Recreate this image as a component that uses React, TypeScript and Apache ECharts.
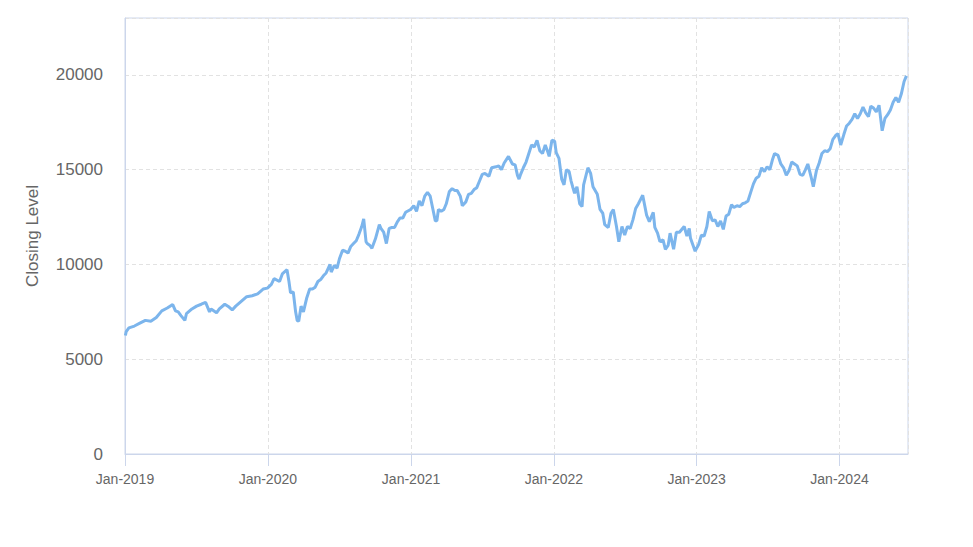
import React, { useEffect, useRef } from "react";
import * as echarts from "echarts";

const dates: string[] = [
  "2019-01-02","2019-01-04","2019-01-11","2019-01-25","2019-02-08","2019-02-22","2019-03-08","2019-03-22","2019-04-05","2019-04-19",
  "2019-04-30","2019-05-03","2019-05-10","2019-05-17","2019-05-24","2019-06-03","2019-06-07","2019-06-21","2019-07-03","2019-07-15",
  "2019-07-26","2019-08-05","2019-08-09","2019-08-23","2019-08-30","2019-09-13","2019-09-24","2019-10-02","2019-10-11","2019-10-25",
  "2019-11-08","2019-11-22","2019-12-06","2019-12-20","2019-12-31",
  "2020-01-10","2020-01-17","2020-01-31","2020-02-07","2020-02-19","2020-02-24","2020-02-28","2020-03-06","2020-03-12","2020-03-16",
  "2020-03-20","2020-03-26","2020-04-01","2020-04-09","2020-04-17","2020-04-24","2020-05-01","2020-05-08","2020-05-15","2020-05-22",
  "2020-05-29","2020-06-08","2020-06-11","2020-06-19","2020-06-26","2020-07-02","2020-07-10","2020-07-17","2020-07-24","2020-07-31",
  "2020-08-07","2020-08-14","2020-08-21","2020-08-28","2020-09-02","2020-09-08","2020-09-11","2020-09-18","2020-09-23","2020-10-02",
  "2020-10-12","2020-10-16","2020-10-23","2020-10-30","2020-11-06","2020-11-13","2020-11-20","2020-11-27","2020-12-04","2020-12-11",
  "2020-12-18","2020-12-31",
  "2021-01-08","2021-01-15","2021-01-22","2021-01-29","2021-02-05","2021-02-12","2021-02-19","2021-02-26","2021-03-04","2021-03-08",
  "2021-03-12","2021-03-19","2021-03-26","2021-04-01","2021-04-09","2021-04-16","2021-04-23","2021-04-29","2021-05-07","2021-05-12",
  "2021-05-21","2021-05-28","2021-06-04","2021-06-11","2021-06-18","2021-06-25","2021-07-02","2021-07-09","2021-07-19","2021-07-26",
  "2021-08-06","2021-08-13","2021-08-20","2021-08-27","2021-09-07","2021-09-17","2021-09-24","2021-09-30","2021-10-04","2021-10-08",
  "2021-10-15","2021-10-22","2021-10-29","2021-11-05","2021-11-12","2021-11-19","2021-11-26","2021-12-03","2021-12-10","2021-12-17",
  "2021-12-20","2021-12-27",
  "2022-01-03","2022-01-07","2022-01-14","2022-01-21","2022-01-27","2022-02-02","2022-02-09","2022-02-14","2022-02-18","2022-02-23",
  "2022-03-01","2022-03-08","2022-03-14","2022-03-18","2022-03-29","2022-04-05","2022-04-11","2022-04-22","2022-04-29","2022-05-06",
  "2022-05-11","2022-05-20","2022-05-27","2022-06-02","2022-06-10","2022-06-16","2022-06-24","2022-07-01","2022-07-08","2022-07-15",
  "2022-07-22","2022-07-29","2022-08-05","2022-08-16","2022-08-26","2022-09-02","2022-09-12","2022-09-16","2022-09-23","2022-09-29",
  "2022-10-07","2022-10-13","2022-10-20","2022-10-25","2022-11-03","2022-11-10","2022-11-18","2022-11-30","2022-12-07","2022-12-13",
  "2022-12-16","2022-12-28",
  "2023-01-06","2023-01-13","2023-01-20","2023-01-27","2023-02-02","2023-02-10","2023-02-17","2023-02-24","2023-03-03","2023-03-10",
  "2023-03-17","2023-03-24","2023-03-31","2023-04-06","2023-04-14","2023-04-21","2023-04-28","2023-05-05","2023-05-12","2023-05-19",
  "2023-05-26","2023-06-02","2023-06-09","2023-06-16","2023-06-23","2023-06-30","2023-07-07","2023-07-14","2023-07-19","2023-07-28",
  "2023-08-04","2023-08-11","2023-08-18","2023-08-25","2023-09-01","2023-09-08","2023-09-15","2023-09-22","2023-09-29","2023-10-06",
  "2023-10-12","2023-10-20","2023-10-26","2023-11-03","2023-11-10","2023-11-17","2023-11-24","2023-12-01","2023-12-08","2023-12-15",
  "2023-12-22","2023-12-28",
  "2024-01-04","2024-01-12","2024-01-19","2024-01-26","2024-02-02","2024-02-09","2024-02-16","2024-02-23","2024-03-01","2024-03-08",
  "2024-03-15","2024-03-21","2024-03-28","2024-04-04","2024-04-11","2024-04-19","2024-04-26","2024-05-03","2024-05-10","2024-05-17",
  "2024-05-24","2024-05-31","2024-06-07","2024-06-14","2024-06-20"
];

const closes: number[] = [
  6250,6450,6650,6750,6900,7050,7000,7200,7550,7700,
  7850,7880,7550,7500,7300,7050,7400,7650,7800,7900,
  8000,7500,7650,7450,7650,7900,7750,7600,7800,8050,
  8300,8350,8450,8700,8750,
  8950,9250,9100,9500,9720,9100,8500,8550,7500,7050,
  7000,7800,7500,8200,8700,8700,8800,9100,9200,9400,
  9550,10000,9600,9950,9800,10300,10750,10700,10600,10950,
  11100,11250,11600,12000,12400,11200,11100,11000,10850,11350,
  12100,11900,11700,11100,11900,11950,11950,12250,12450,12450,
  12750,12900,
  13100,12800,13350,13100,13600,13800,13600,12900,12300,12300,
  12900,12800,12900,13200,13850,14000,13900,13900,13600,13100,
  13300,13700,13750,13950,14050,14400,14750,14800,14650,15100,
  15150,15200,15000,15350,15700,15300,15250,14700,14500,14750,
  15100,15400,15850,16300,16200,16550,16000,15850,16300,15900,
  15700,16550,
  16500,15900,15600,14500,14200,15000,14900,14400,14100,13750,
  14100,13200,13050,14200,15100,14800,14100,13700,12900,12700,
  12100,11950,12700,12900,12000,11200,12000,11550,12000,11900,
  12350,12950,13200,13650,12600,12250,12750,11950,11650,11200,
  11300,10800,11000,11650,10800,11700,11700,12000,11500,11900,
  11400,10700,
  11050,11550,11500,12000,12800,12300,12350,12000,12300,11850,
  12550,12650,13150,13000,13100,13050,13200,13250,13350,13800,
  14250,14550,14650,15100,14900,15150,15000,15550,15850,15750,
  15300,15100,14700,14950,15400,15300,15200,14750,14700,15000,
  15300,14650,14100,14950,15350,15850,16000,15950,16100,16600,
  16800,16900,
  16300,16850,17300,17450,17650,17950,17700,17950,18300,18000,
  17800,18350,18250,18050,18400,17050,17700,17900,18150,18550,
  18800,18550,19000,19650,19950
];

const X_MIN = "2019-01-01";
const X_MAX = "2024-06-24";
const Y_MIN = 0;
const Y_MAX = 23000;
const Y_INTERVAL = 5000;
const MONTHS = ["Jan","Feb","Mar","Apr","May","Jun","Jul","Aug","Sep","Oct","Nov","Dec"];
const Y_NAME = "Closing Level";

export default function App() {
  const ref = useRef<HTMLDivElement>(null);
  useEffect(() => {
    if (!ref.current) return;
    const chart = echarts.init(ref.current, null, { renderer: "svg" });
    const font = "'Liberation Sans', Arial, sans-serif";
    chart.setOption({
      animation: false,
      backgroundColor: "#ffffff",
      textStyle: { fontFamily: font },
      grid: {
        left: 125, right: 65, top: 18, bottom: 93,
        show: true, borderColor: "#ccd6eb", borderWidth: 1, backgroundColor: "transparent",
      },
      xAxis: {
        type: "time",
        min: X_MIN,
        max: X_MAX,
        splitNumber: 6,
        axisLine: { show: true, lineStyle: { color: "#ccd6eb", width: 1 } },
        axisTick: { show: true, length: 12, lineStyle: { color: "#ccd6eb" } },
        splitLine: { show: true, lineStyle: { color: "#e2e2e2", type: [4, 3] } },
        axisLabel: {
          color: "#666666",
          fontSize: 14,
          fontFamily: font,
          margin: 18,
          showMaxLabel: false,
          hideOverlap: false,
          formatter: (v: number) => {
            const d = new Date(v);
            return `${MONTHS[d.getMonth()]}-${d.getFullYear()}`;
          },
        },
      },
      yAxis: {
        type: "value",
        min: Y_MIN,
        max: Y_MAX,
        interval: Y_INTERVAL,
        name: Y_NAME,
        nameLocation: "middle",
        nameGap: 84,
        nameTextStyle: { color: "#666666", fontSize: 17, fontFamily: font },
        axisLine: { show: true, lineStyle: { color: "#ccd6eb", width: 1 } },
        axisTick: { show: false },
        splitLine: { show: true, lineStyle: { color: "#e2e2e2", type: [4, 3] } },
        axisLabel: {
          color: "#666666",
          fontSize: 17,
          fontFamily: font,
          margin: 22,
          showMaxLabel: false,
          formatter: (v: number) => String(v),
        },
      },
      series: [
        {
          type: "line",
          data: dates.map((d, i) => [d, closes[i]]),
          showSymbol: false,
          symbol: "none",
          lineStyle: { color: "#7cb5ec", width: 3 },
          itemStyle: { color: "#7cb5ec" },
        },
      ],
    });
    return () => chart.dispose();
  }, []);
  return <div ref={ref} style={{ position: "absolute", left: 0, top: 0, width: 973, height: 547 }} />;
}
